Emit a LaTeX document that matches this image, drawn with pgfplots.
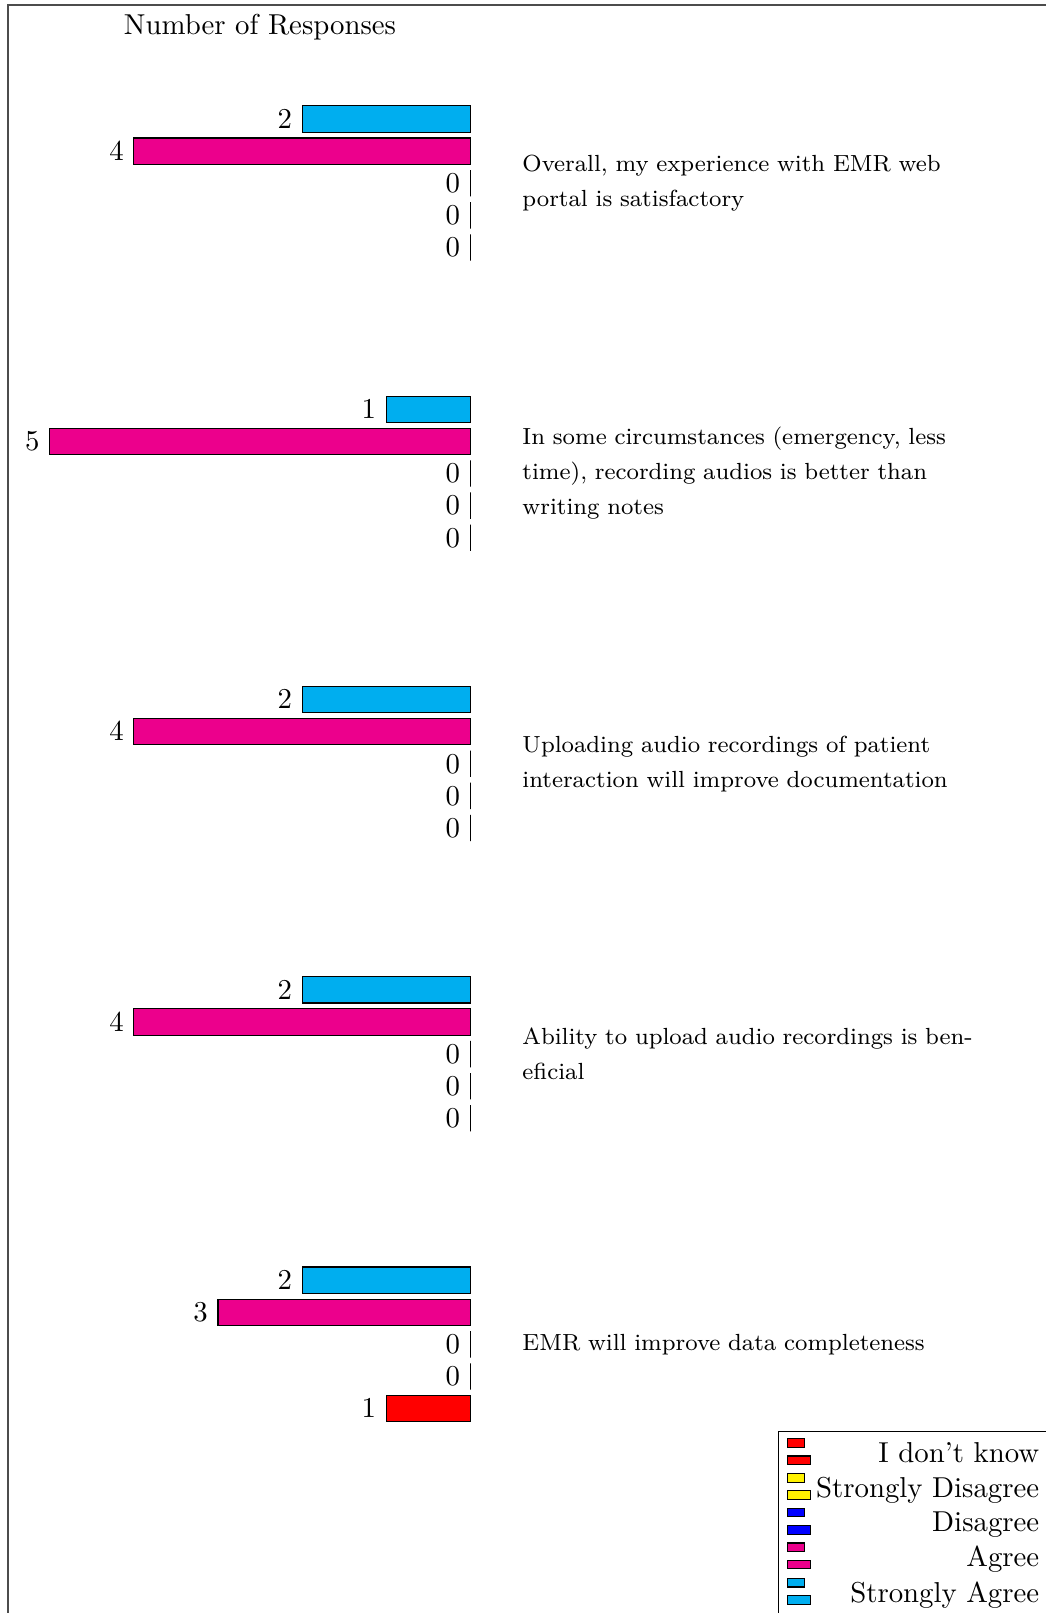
\documentclass[border=0pt]{standalone}
\usepackage{pgfplots}
\pgfplotsset{compat=1.18}
\definecolor{cSA}{RGB}{0,174,239}
\definecolor{cA}{RGB}{236,0,140}
\definecolor{cD}{RGB}{0,0,255}
\definecolor{cSD}{RGB}{255,242,0}
\definecolor{cIDK}{RGB}{255,0,0}
\begin{document}
\lefthyphenmin=3
\begin{tikzpicture}
\begin{scope}
\clip (-2.7pt,23.3pt) rectangle ++(363.2pt,-560.1pt);
\begin{axis}[
  at={(0,0)}, anchor=north west,
  scale only axis, width=175.2pt, height=483.84pt,
  xbar=2pt, bar width=9.15pt,
  x dir=reverse,
  xmin=-0.5, xmax=5.5, ymin=-0.4, ymax=4.4,
  enlargelimits=false,
  axis line style={draw=none},
  xtick=\empty,
  ytick={0,1,2,3,4},
  yticklabels={{EMR will improve data completeness},
    {Ability to upload audio recordings is beneficial},
    {Uploading audio recordings of patient interaction will improve documentation},
    {In some circumstances (emergency, less time), recording audios is better than writing notes},
    {Overall, my experience with EMR web portal is satisfactory}},
  yticklabel pos=right,
  major tick length=0pt,
  ytick style={draw=none},
  yticklabel style={text width=157pt, align=left, font=\fontsize{8.1}{12.15}\selectfont},
  title={Number of Responses},
  point meta=x,
  nodes near coords,
  every node near coord/.append style={anchor=east, font=\normalsize, black},
  legend style={at={(1.5257,0.0213)}, anchor=north west, font=\normalsize, draw=black,
    nodes={inner sep=1.8pt, text depth=0.15em}},
  legend cell align=right,
]
\addplot[draw=black, fill=cIDK] coordinates {(1,0) (0,1) (0,2) (0,3) (0,4)};
\addplot[draw=black, fill=cSD] coordinates {(0,0) (0,1) (0,2) (0,3) (0,4)};
\addplot[draw=black, fill=cD] coordinates {(0,0) (0,1) (0,2) (0,3) (0,4)};
\addplot[draw=black, fill=cA] coordinates {(3,0) (4,1) (4,2) (5,3) (4,4)};
\addplot[draw=black, fill=cSA] coordinates {(2,0) (2,1) (2,2) (1,3) (2,4)};
\legend{I don't know, Strongly Disagree, Disagree, Agree, Strongly Agree}
\end{axis}
\draw[black!70, line width=0.6pt] (0,21.5pt) rectangle (450pt,-650pt);
\end{scope}
\pgfresetboundingbox
\useasboundingbox (-2.7pt,23.3pt) rectangle ++(363.2pt,-560.1pt);
\end{tikzpicture}
\end{document}
